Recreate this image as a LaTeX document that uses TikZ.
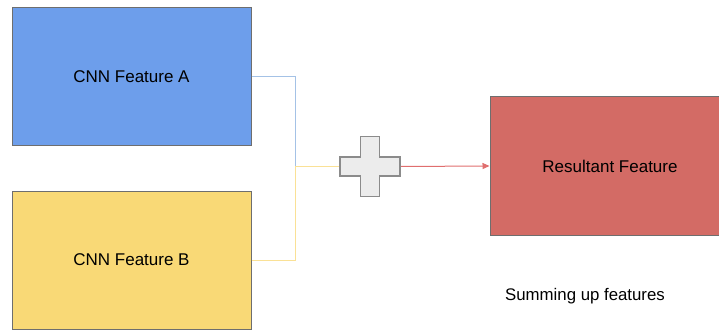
\documentclass[tikz,border=0pt]{standalone}
\usepackage{fontspec}
\setmainfont{Liberation Sans}
\usetikzlibrary{arrows.meta}
\definecolor{boxA}{RGB}{109,158,235}
\definecolor{boxB}{RGB}{249,217,118}
\definecolor{boxR}{RGB}{211,107,101}
\definecolor{lineA}{RGB}{164,194,230}
\definecolor{lineB}{RGB}{250,225,150}
\definecolor{lineR}{RGB}{224,110,110}
\definecolor{plusfill}{RGB}{236,236,236}
\definecolor{edge}{RGB}{110,110,110}
\begin{document}
\begin{tikzpicture}[x=1pt,y=-1pt,
  feat/.style={draw=edge,line width=1pt,minimum width=239pt,minimum height=138pt,inner sep=0pt,font=\fontsize{17}{19}\selectfont},
  conn/.style={line width=1pt},
  lbl/.style={font=\fontsize{16.8}{19}\selectfont}]
\useasboundingbox (0,0) rectangle (719,331);
\node[feat,fill=boxA] (a) at (131.5,77) {CNN Feature A};
\node[feat,fill=boxB] (b) at (131.5,260) {CNN Feature B};
\node[feat,fill=boxR,minimum width=240pt] (r) at (610,166) {Resultant Feature};
\node[minimum size=60pt,inner sep=0pt] (p) at (370,166.5) {};
\coordinate (j) at (295,166.5);
\draw[conn,draw=lineA] (a.east) -| (j);
\draw[conn,draw=lineB] (b.east) -| (j) -- (p.west);
\draw[conn,draw=lineR,-{Triangle[length=7pt,width=6pt]}] (p.east) -- (r.west);
\draw[shift={(p.center)},draw=edge!80,fill=plusfill,line width=1.2pt]
  (-9.5,-30) -- (9.5,-30) -- (9.5,-9.5) -- (30,-9.5) -- (30,9.5) -- (9.5,9.5)
  -- (9.5,30) -- (-9.5,30) -- (-9.5,9.5) -- (-30,9.5) -- (-30,-9.5) -- (-9.5,-9.5) -- cycle;
\node[lbl] (s) at (585,296) {Summing up features};
\end{tikzpicture}
\end{document}
